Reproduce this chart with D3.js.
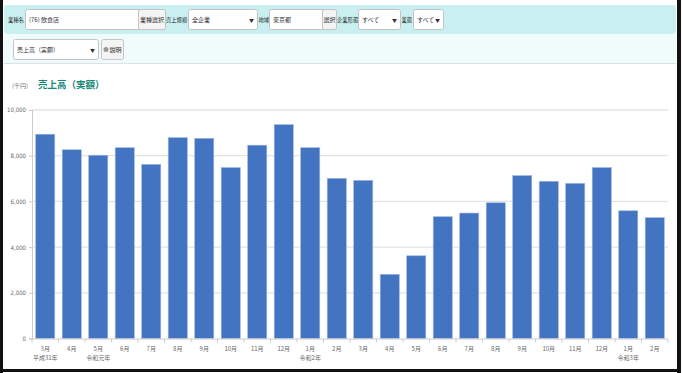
<!DOCTYPE html>
<html>
<head>
<meta charset="utf-8">
<script src="https://cdn.jsdelivr.net/npm/d3@7"></script>
<style>
body { margin:0; padding:0; background:#fff; }
svg { display:block; font-family:"Noto Sans CJK JP","Noto Sans",sans-serif; }
</style>
</head>
<body>
<script>
var W = 682, H = 373;

var months = ["3月","4月","5月","6月","7月","8月","9月","10月","11月","12月","1月","2月",
              "3月","4月","5月","6月","7月","8月","9月","10月","11月","12月","1月","2月"];
var eras = ["平成31年","","令和元年","","","","","","","","令和2年","",
            "","","","","","","","","","","令和3年",""];
var sales = [8940,8260,8020,8350,7620,8790,8760,7480,8460,9360,8350,7010,
             6920,2810,3620,5330,5490,5940,7130,6880,6790,7480,5590,5290];
var yTicks = [0,2000,4000,6000,8000,10000];

var svg = d3.select("body").append("svg")
	.attr("width", W)
	.attr("height", H);

svg.append("rect").attr("width", W).attr("height", H).attr("fill", "#fff");

// form panels
svg.append("rect")
	.attr("x", 4).attr("y", 34).attr("width", 672).attr("height", 29)
	.attr("fill", "#f0fbfb");
svg.append("rect")
	.attr("x", 4).attr("y", 5).attr("width", 672).attr("height", 29)
	.attr("rx", 3)
	.attr("fill", "#c9eff0");
svg.append("line")
	.attr("x1", 4).attr("x2", 676).attr("y1", 63.5).attr("y2", 63.5)
	.attr("stroke", "#dde3e3");

var fs = 6;
function label(x, y, t){
	svg.append("text").attr("x", x).attr("y", y)
		.attr("font-size", 5.3).attr("fill", "#222").text(t);
}
function box(x, y, w, h, t, arrow){
	svg.append("rect").attr("x", x+0.5).attr("y", y+0.5).attr("width", w).attr("height", h)
		.attr("rx", 2).attr("fill", "#fff").attr("stroke", "#c4c4c4");
	svg.append("text").attr("x", x+4).attr("y", y+h/2+2.5)
		.attr("font-size", fs).attr("fill", "#333").text(t);
	if(arrow){
		svg.append("text").attr("x", x+w-3).attr("y", y+h/2+2.5)
			.attr("text-anchor", "end")
			.attr("font-size", 5).attr("fill", "#333").text("▼");
	}
}
function button(x, y, w, h, t){
	svg.append("rect").attr("x", x+0.5).attr("y", y+0.5).attr("width", w).attr("height", h)
		.attr("rx", 2).attr("fill", "#f4f4f4").attr("stroke", "#c4c4c4");
	svg.append("text").attr("x", x+w/2+0.5).attr("y", y+h/2+2.5)
		.attr("text-anchor", "middle")
		.attr("font-size", fs).attr("fill", "#333").text(t);
}

label(8, 22, "業種名");
box(25, 9, 140, 20, "(76) 飲食店", false);
button(138, 9, 27, 20, "業種選択");
label(166, 22, "売上規模");
box(188, 9, 69, 20, "全企業", true);
label(258.5, 22, "地域");
box(269, 9, 67, 20, "東京都", false);
button(322, 9, 14, 20, "選択");
label(337, 22, "企業形態");
box(358, 9, 42, 20, "すべて", true);
label(401.5, 22, "業態");
box(413, 9, 30, 20, "すべて", true);

box(13, 39, 85, 20, "売上高（実額）", true);
svg.append("rect").attr("x", 101.5).attr("y", 39.5).attr("width", 22).attr("height", 20)
	.attr("rx", 2).attr("fill", "#f4f4f4").attr("stroke", "#c4c4c4");
svg.append("circle").attr("cx", 106).attr("cy", 49.5).attr("r", 2.5)
	.attr("fill", "#999");
svg.append("text").attr("x", 109.5).attr("y", 52)
	.attr("font-size", fs).attr("fill", "#333").text("説明");

// chart titles
svg.append("text").attr("x", 12).attr("y", 88)
	.attr("font-size", 6).attr("fill", "#777").text("(千円)");
svg.append("text").attr("x", 38).attr("y", 88)
	.attr("font-size", 9.5).attr("font-weight", "bold").attr("fill", "#17877a")
	.text("売上高（実額）");

// chart
var pLeft = 32, pRight = 668, pTop = 110, pBottom = 338.5;

var x = d3.scaleBand()
	.domain(d3.range(months.length))
	.range([pLeft, pRight])
	.paddingInner(0.28)
	.paddingOuter(0.14);

var y = d3.scaleLinear()
	.domain([0, 10000])
	.range([pBottom, pTop]);

svg.append("g").selectAll("line")
	.data(yTicks.slice(1))
	.enter().append("line")
	.attr("x1", pLeft).attr("x2", pRight)
	.attr("y1", function(d){ return y(d); })
	.attr("y2", function(d){ return y(d); })
	.attr("stroke", "#e3e3e3")
	.attr("stroke-width", 1.3);

var yAxis = svg.append("g")
	.attr("transform", "translate(" + pLeft + ",0)")
	.call(d3.axisLeft(y).tickValues(yTicks).tickFormat(d3.format(",")).tickSize(3));
yAxis.select(".domain").attr("stroke", "#ccc");
yAxis.selectAll(".tick line").attr("stroke", "#ccc");
yAxis.selectAll(".tick text").attr("font-size", 6).attr("fill", "#666")
	.attr("font-family", "'Liberation Sans Narrow','DejaVu Sans Condensed',sans-serif");

svg.append("g").selectAll("rect")
	.data(sales)
	.enter().append("rect")
	.attr("x", function(d,i){ return x(i); })
	.attr("y", function(d){ return y(d); })
	.attr("width", x.bandwidth())
	.attr("height", function(d){ return pBottom - y(d); })
	.attr("fill", "#4374c1")
	.attr("stroke", "#9db6e2")
	.attr("stroke-width", 0.6);

// x axis
svg.append("line")
	.attr("x1", pLeft).attr("x2", pRight)
	.attr("y1", pBottom + 0.5).attr("y2", pBottom + 0.5)
	.attr("stroke", "#ccc");

var step = x.step();
svg.append("g").selectAll("line")
	.data(d3.range(months.length + 1))
	.enter().append("line")
	.attr("x1", function(i){ return pLeft + i*step; })
	.attr("x2", function(i){ return pLeft + i*step; })
	.attr("y1", pBottom + 0.5).attr("y2", pBottom + 4)
	.attr("stroke", "#ccc");

svg.append("g").selectAll("text")
	.data(months)
	.enter().append("text")
	.attr("x", function(d,i){ return x(i) + x.bandwidth()/2; })
	.attr("y", pBottom + 12)
	.attr("text-anchor", "middle")
	.attr("font-size", 6).attr("fill", "#666")
	.text(function(d){ return d; });

svg.append("g").selectAll("text")
	.data(eras)
	.enter().append("text")
	.attr("x", function(d,i){ return x(i) + x.bandwidth()/2; })
	.attr("y", pBottom + 21)
	.attr("text-anchor", "middle")
	.attr("font-size", 6).attr("fill", "#666")
	.text(function(d){ return d; });

// outer black frame
svg.append("rect").attr("x", 0).attr("y", 0).attr("width", 3).attr("height", H).attr("fill", "#111");
svg.append("rect").attr("x", 677).attr("y", 0).attr("width", 4).attr("height", H).attr("fill", "#111");
svg.append("rect").attr("x", 0).attr("y", 369).attr("width", 681).attr("height", 3).attr("fill", "#111");
</script>
</body>
</html>
